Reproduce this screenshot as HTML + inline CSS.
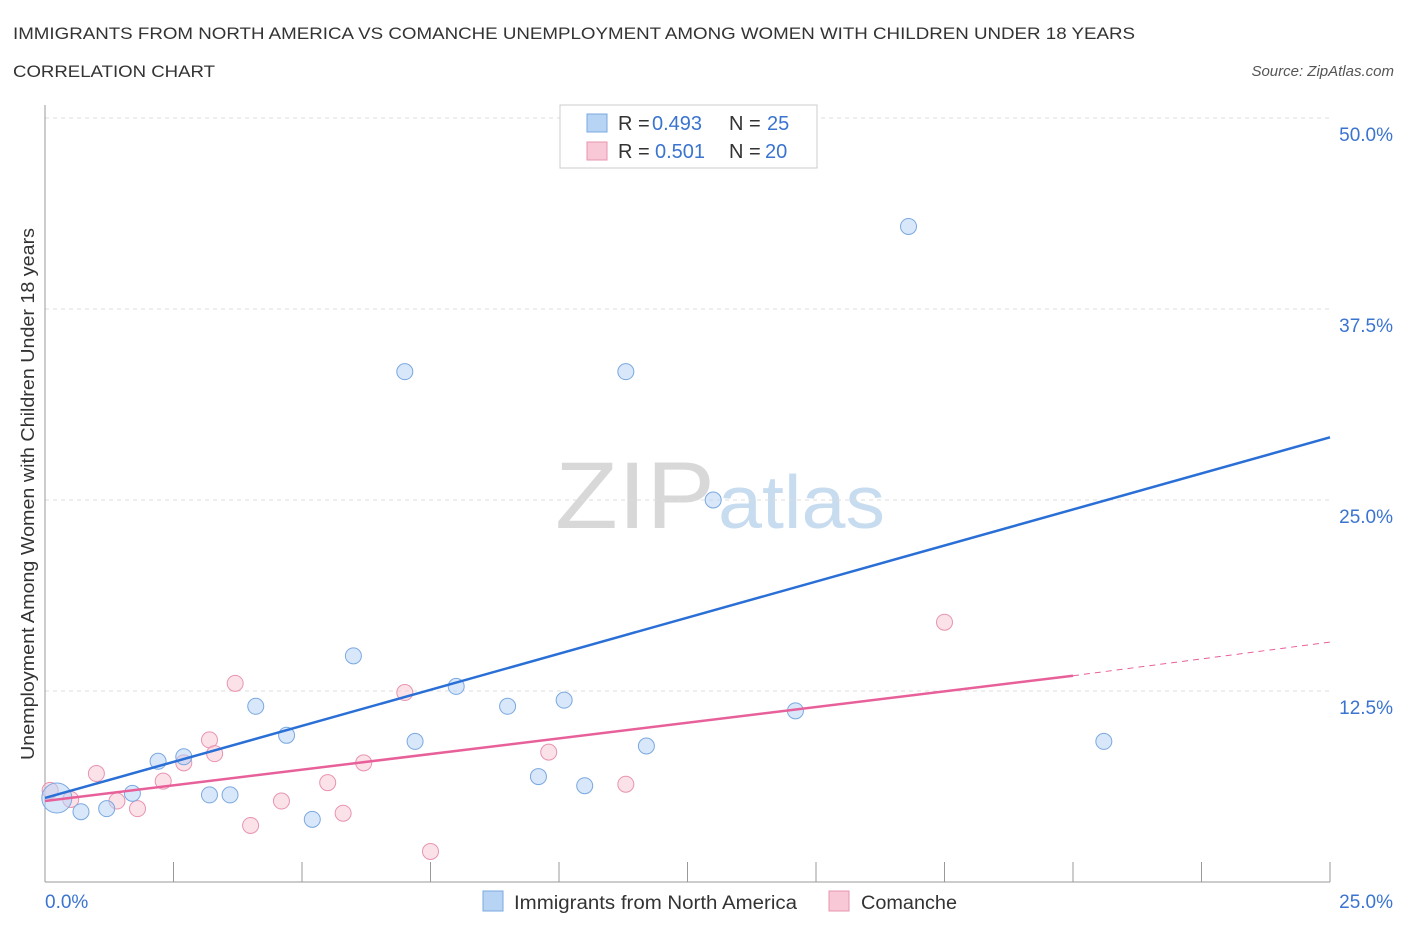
<!DOCTYPE html>
<html><head><meta charset="utf-8"><style>
body{margin:0;background:#fff;font-family:"Liberation Sans",sans-serif}
svg text{font-family:"Liberation Sans",sans-serif}
</style></head><body>
<svg id="c" width="1406" height="930">
<text x="13" y="39" font-size="17" fill="#333" textLength="1122" lengthAdjust="spacingAndGlyphs">IMMIGRANTS FROM NORTH AMERICA VS COMANCHE UNEMPLOYMENT AMONG WOMEN WITH CHILDREN UNDER 18 YEARS</text>
<text x="13" y="77" font-size="17" fill="#333" textLength="202" lengthAdjust="spacingAndGlyphs">CORRELATION CHART</text>
<text x="1394" y="76" font-size="15" fill="#555" font-style="italic" text-anchor="end">Source: ZipAtlas.com</text>
<text x="555" y="528" font-size="95" fill="#d8d8d8" font-family="Liberation Serif" textLength="160" lengthAdjust="spacingAndGlyphs">ZIP</text>
<text x="718" y="528" font-size="75" fill="#c8dcf0" textLength="167" lengthAdjust="spacingAndGlyphs">atlas</text>
<text transform="translate(34,494) rotate(-90)" font-size="18" fill="#333" text-anchor="middle" textLength="532" lengthAdjust="spacingAndGlyphs">Unemployment Among Women with Children Under 18 years</text>
<g id="grid"></g><g id="marks"></g>
<g>
<rect x="560" y="105" width="257" height="63" fill="#fff" stroke="#ccc"/>
<rect x="587" y="114" width="20" height="18" fill="#b8d4f5" stroke="#7aa8e0"/>
<text y="130" font-size="20" fill="#333"><tspan x="618">R =</tspan><tspan x="652" fill="#3a74d0">0.493</tspan><tspan x="729">N =</tspan><tspan x="767" fill="#3a74d0">25</tspan></text>
<rect x="587" y="142" width="20" height="18" fill="#f8c8d6" stroke="#e894b0"/>
<text y="158" font-size="20" fill="#333"><tspan x="618">R =</tspan><tspan x="655" fill="#3a74d0">0.501</tspan><tspan x="729">N =</tspan><tspan x="765" fill="#3a74d0">20</tspan></text>
</g>
<rect x="483" y="891" width="20" height="20" fill="#b8d4f5" stroke="#7aa8e0"/>
<text x="514" y="909" font-size="19" fill="#333" textLength="283" lengthAdjust="spacingAndGlyphs">Immigrants from North America</text>
<rect x="829" y="891" width="20" height="20" fill="#f8c8d6" stroke="#e894b0"/>
<text x="861" y="909" font-size="19" fill="#333" textLength="96" lengthAdjust="spacingAndGlyphs">Comanche</text>
</svg>
<script>
const yTicks=[12.5,25,37.5,50];
const yTickLabels=["12.5%","25.0%","37.5%","50.0%"];
const xTickLabels=["0.0%","25.0%"];
const blueX=[0.23,0.7,1.2,1.7,2.2,2.7,3.2,3.6,4.1,4.7,5.2,6.0,7.0,7.2,8.0,9.0,9.6,10.1,10.5,11.3,11.7,13.0,14.6,16.8,20.6];
const blueY=[5.5,4.6,4.8,5.8,7.9,8.2,5.7,5.7,11.5,9.6,4.1,14.8,33.4,9.2,12.8,11.5,6.9,11.9,6.3,33.4,8.9,25.0,11.2,42.9,9.2];
const pinkX=[0.1,0.5,1.0,1.4,1.8,2.3,2.7,3.2,3.3,3.7,4.0,4.6,5.5,5.8,6.2,7.0,7.5,9.8,11.3,17.5];
const pinkY=[6.0,5.4,7.1,5.3,4.8,6.6,7.8,9.3,8.4,13.0,3.7,5.3,6.5,4.5,7.8,12.4,2.0,8.5,6.4,17.0];
const blueLine=[[0,5.5],[25,29.1]];
const pinkLine=[[0,5.3],[20,13.5]];
const pinkDash=[[20,13.5],[25,15.7]];
const xs=v=>45+v*51.4, ys=v=>882-v*15.28;
const NS="http://www.w3.org/2000/svg";
const grid=document.getElementById('grid'),marks=document.getElementById('marks');
function mk(p,t,a){const e=document.createElementNS(NS,t);for(const k in a)e.setAttribute(k,a[k]);p.appendChild(e);return e;}
yTicks.forEach((v,i)=>{
 const l=mk(grid,'line',{x1:45,x2:1330,y1:ys(v),y2:ys(v),stroke:'#ddd','stroke-dasharray':'4,4'});
 
 
 const t=mk(grid,'text',{x:1393,y:ys(v)+23,'font-size':19,fill:'#3a74d0','text-anchor':'end'});t.textContent=yTickLabels[i];
 
 
});
const ax=mk(grid,'line',{x1:45,x2:1330,y1:882,y2:882,stroke:'#999'});


const ay=mk(grid,'line',{x1:45,x2:45,y1:105,y2:882,stroke:'#999'});


for(let i=0;i<=10;i++){const t=mk(grid,'line',{x1:xs(i*2.5),x2:xs(i*2.5),y1:862,y2:882,stroke:'#999'});
 
 }
[[0,45,'start'],[1,1393,'end']].forEach(([i,x,a])=>{const t=mk(grid,'text',{x:x,y:908,'font-size':19,fill:'#3a74d0','text-anchor':a});t.textContent=xTickLabels[i];
 
 });
pinkX.forEach((x,i)=>{const c=mk(marks,'circle',{cx:xs(x),cy:ys(pinkY[i]),r:8,fill:'rgba(248,200,214,0.55)',stroke:'#e894b0'});
 
 });
blueX.forEach((x,i)=>{const c=mk(marks,'circle',{cx:xs(x),cy:ys(blueY[i]),r:i==0?15:8,fill:'rgba(184,212,245,0.55)',stroke:'#7aa8e0'});
 
 });
const bl=mk(marks,'line',{x1:xs(blueLine[0][0]),y1:ys(blueLine[0][1]),x2:xs(blueLine[1][0]),y2:ys(blueLine[1][1]),stroke:'#2a6fd6','stroke-width':2.5});


const pl=mk(marks,'line',{x1:xs(pinkLine[0][0]),y1:ys(pinkLine[0][1]),x2:xs(pinkLine[1][0]),y2:ys(pinkLine[1][1]),stroke:'#e8609a','stroke-width':2.5});


const pd=mk(marks,'line',{x1:xs(pinkDash[0][0]),y1:ys(pinkDash[0][1]),x2:xs(pinkDash[1][0]),y2:ys(pinkDash[1][1]),stroke:'#e8609a','stroke-width':1,'stroke-dasharray':'6,5'});


</script>
</body></html>
